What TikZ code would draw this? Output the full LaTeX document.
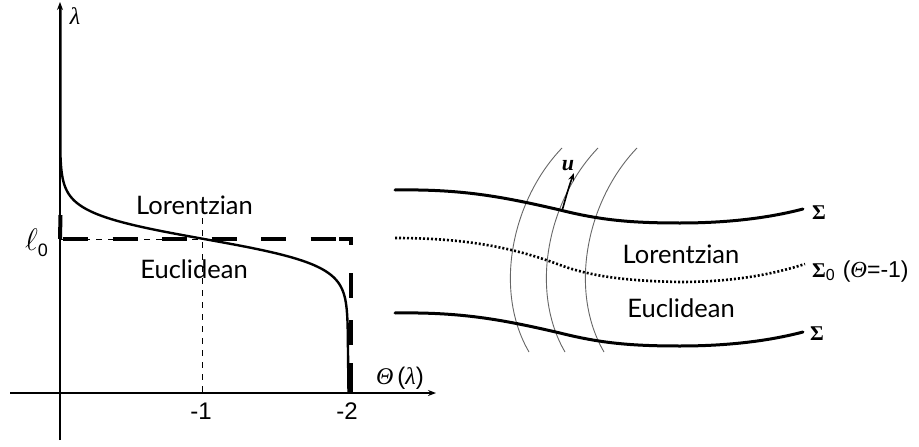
\documentclass[tikz,border=0pt]{standalone}
\usepackage{fontspec}
\usetikzlibrary{arrows.meta}
\newfontfamily\gillf{Lato}
\newfontfamily\arialf{Liberation Sans}
\newfontfamily\tnrf{Liberation Serif}
\begin{document}
\begin{tikzpicture}[x=1pt,y=-1pt,
  axis/.style={line width=1.3pt, -{Stealth[length=8pt,width=6pt]}},
  curvel/.style={line width=2.4pt, line join=round},
  thickdash/.style={line width=4pt},
  thindash/.style={line width=0.8pt, dash pattern=on 6pt off 6pt},
  surf/.style={line width=3pt, line cap=round},
  dotline/.style={line width=2.6pt, dash pattern=on 2pt off 2pt},
  flow/.style={line width=0.9pt, black!60},
  regionlbl/.style={font=\gillf\fontsize{25.5}{25.5}\selectfont, inner sep=0pt, anchor=base},
  ticklbl/.style={font=\arialf\fontsize{24}{24}\selectfont, inner sep=0pt, anchor=base},
  sigmalbl/.style={font=\tnrf\bfseries\fontsize{21}{21}\selectfont, inner sep=0pt, anchor=base},
]
\useasboundingbox (0,0) rectangle (919,447);

% ---------------- left: graph ----------------
\coordinate (vb) at (60,440);
\coordinate (vt) at (60,2);
\coordinate (hl) at (10,393);
\coordinate (hr) at (436,393);
\draw[axis] (vb) -- (vt);
\draw[axis] (hl) -- (hr);

\coordinate (l0a) at (60.5,215);
\coordinate (l0) at (60,239);
\coordinate (hs) at (63,239);
\coordinate (he) at (336,239);
\coordinate (ks) at (339,239);
\coordinate (cr) at (351,239);
\coordinate (cb) at (351,393);
\coordinate (ct) at (202,218);
\coordinate (cx) at (202,239);
\coordinate (cbx) at (202,393);

% thin dashed guides
\draw[thindash] (l0) -- (cx);
\draw[thindash] (ct) -- (cbx);

% thick dashed step
\draw[thickdash] (l0a) -- (l0);
\draw[thickdash, dash pattern=on 25pt off 24.5pt] (hs) -- (he);
\draw[thickdash, dash pattern=on 18pt off 28pt on 25pt off 22pt on 25pt off 18pt on 30pt] (ks) -- (cr) -- (cb);

% the curve Theta(lambda)
\coordinate (ctop) at (60.5,8);
\coordinate (cbot) at (348.5,393);
\draw[curvel] (ctop) -- (60.3,150)
  -- plot[domain=3.4:-3.7, samples=160, variable=\u]
     ({60+144*(2/(exp(2*\u)+1))}, {239-26*\u})
  -- (cbot);

% labels
\node[font=\tnrf\itshape\fontsize{24}{24}\selectfont, inner sep=0pt, anchor=base] (lam) at (75,24) {λ};
\node[font=\arialf\fontsize{24}{24}\selectfont, inner sep=0pt, anchor=base] (thl) at (400,384)
  {{\tnrf\itshape Θ}\,({\tnrf\itshape λ})};
\node[ticklbl] (m1) at (201,419) {-1};
\node[ticklbl] (m2) at (347,419) {-2};
\node[inner sep=0pt, anchor=base west] (ell) at (25,250)
  {\fontsize{24.88}{25}\selectfont\scalebox{1.25}{$\ell$}{\arialf\fontsize{18}{18}\selectfont\raisebox{-6pt}{0}}};
\node[regionlbl] (lorL) at (194.5,214) {Lorentzian};
\node[regionlbl] (eucL) at (194,278) {Euclidean};

% ---------------- right: hypersurfaces ----------------
\foreach \s in {0,36,75}{
  \draw[flow] (562+\s,148) .. controls (512+\s,200) and (493+\s,290) .. (529+\s,352);
}

\draw[surf] (395,190) .. controls (460,189) and (500,196) .. (560,210)
  .. controls (600,220) and (630,223) .. (680,223)
  .. controls (740,223) and (780,215) .. (803,209);
\draw[surf] (395,313) .. controls (460,312) and (500,319) .. (560,333)
  .. controls (600,343) and (630,346) .. (680,346)
  .. controls (740,346) and (780,338) .. (803,332);
\draw[dotline] (395,238) .. controls (460,238) and (510,246) .. (560,265)
  .. controls (590,276) and (625,281) .. (680,282)
  .. controls (740,282) and (780,272) .. (805,264);

% normal vector u
\coordinate (ub) at (562,211);
\coordinate (ut) at (574,173);
\draw[line width=1.6pt, -{Stealth[length=8pt,width=6pt]}] (ub) .. controls (566,197) and (569,186) .. (ut);
\node[font=\tnrf\bfseries\itshape\fontsize{22}{22}\selectfont, inner sep=0pt, anchor=base] (ulbl) at (568,170) {u};

\node[sigmalbl, anchor=base west] (sigT) at (812,219) {Σ};
\node[sigmalbl, anchor=base west] (sigB) at (810,340) {Σ};
\node[inner sep=0pt, anchor=base west] (sig0) at (812,277)
  {{\tnrf\bfseries\fontsize{21}{21}\selectfont Σ}{\arialf\fontsize{16}{16}\selectfont\raisebox{-3pt}{0}}\hspace{8pt}{\arialf\fontsize{23}{23}\selectfont ({\tnrf\itshape Θ}=-1)}};

\node[regionlbl] (lorR) at (681,263) {Lorentzian};
\node[regionlbl] (eucR) at (681,317) {Euclidean};
\end{tikzpicture}
\end{document}
